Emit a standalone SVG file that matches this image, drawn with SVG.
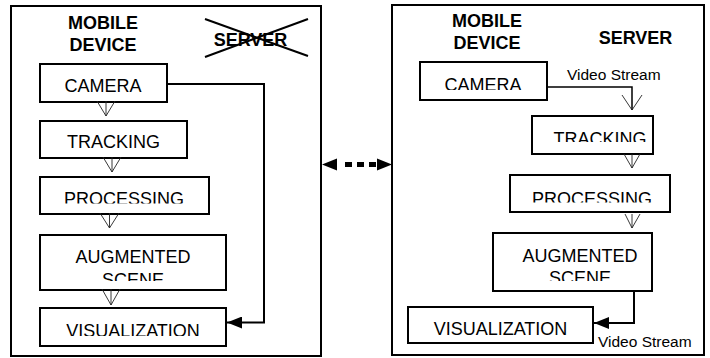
<svg xmlns="http://www.w3.org/2000/svg" width="710" height="358" viewBox="0 0 710 358">
  <style>
    .panel { fill: #fff; stroke: #000; stroke-width: 2; }
    .box { fill: #fff; stroke: #000; stroke-width: 2; }
    .title { font-family: "Liberation Sans", Arial, sans-serif; font-size: 18px; font-weight: bold; fill: #000; text-anchor: middle; }
    .label { font-family: "Liberation Sans", Arial, sans-serif; font-size: 18px; fill: #000; text-anchor: middle; }
    .note { font-family: "Liberation Sans", Arial, sans-serif; font-size: 15.5px; fill: #000; }
    .flow { fill: none; stroke: #000; stroke-width: 2; }
    .open { fill: none; stroke: #222; stroke-width: 0.9; }
    .cross { stroke: #000; stroke-width: 2; }
  </style>
  <defs>
    <marker id="solidHead" viewBox="0 0 15 12" refX="15" refY="6" markerWidth="15" markerHeight="12" markerUnits="userSpaceOnUse" orient="auto">
      <path d="M0,0 L15,6 L0,12 Z" fill="#000"/>
    </marker>
    <!-- label frames that cut off the lower part of the text -->
    <clipPath id="cpLProc"><rect x="40" y="180" width="170" height="23.5"/></clipPath>
    <clipPath id="cpLScene"><rect x="40" y="265" width="186" height="16"/></clipPath>
    <clipPath id="cpLVis"><rect x="40" y="312" width="186" height="24"/></clipPath>
    <clipPath id="cpRCam"><rect x="420" y="66" width="127" height="24"/></clipPath>
    <clipPath id="cpRTrack"><rect x="532" y="120" width="121" height="22"/></clipPath>
    <clipPath id="cpRProc"><rect x="510" y="180" width="160" height="22.5"/></clipPath>
    <clipPath id="cpRScene"><rect x="493" y="265" width="159" height="16"/></clipPath>
    <clipPath id="cpRVis"><rect x="408" y="312" width="185" height="23"/></clipPath>
  </defs>

  <!-- standalone configuration: everything on the device -->
  <g id="panel-local">
    <rect class="panel" x="11" y="6" width="310" height="350"/>
    <text class="title" x="103" y="29">MOBILE</text>
    <text class="title" x="103" y="51">DEVICE</text>
    <text class="title" x="250.5" y="45.5">SERVER</text>
    <line class="cross" x1="205" y1="19" x2="308" y2="56"/>
    <line class="cross" x1="205" y1="57" x2="308" y2="19"/>
  </g>

  <g id="l-camera">
    <rect class="box" x="40" y="64" width="127" height="38"/>
    <text class="label" x="103" y="92.3">CAMERA</text>
  </g>
  <g id="l-tracking">
    <rect class="box" x="40" y="121" width="147" height="37"/>
    <text class="label" x="113.5" y="147.5">TRACKING</text>
  </g>
  <g id="l-processing">
    <rect class="box" x="40" y="177" width="169" height="37"/>
    <text class="label" x="124" y="204.6" clip-path="url(#cpLProc)">PROCESSING</text>
  </g>
  <g id="l-augmented">
    <rect class="box" x="40" y="235" width="186" height="55"/>
    <text class="label" x="133" y="262.7">AUGMENTED</text>
    <text class="label" x="133" y="285.6" clip-path="url(#cpLScene)">SCENE</text>
  </g>
  <g id="l-visualization">
    <rect class="box" x="40" y="308" width="186" height="38"/>
    <text class="label" x="133" y="336.9" clip-path="url(#cpLVis)">VISUALIZATION</text>
  </g>

  <!-- client/server configuration -->
  <g id="panel-remote">
    <rect class="panel" x="392" y="5" width="312" height="350"/>
    <text class="title" x="487" y="27">MOBILE</text>
    <text class="title" x="487" y="49">DEVICE</text>
    <text class="title" x="635.5" y="44">SERVER</text>
  </g>

  <g id="r-camera">
    <rect class="box" x="420" y="62" width="127" height="38"/>
    <text class="label" x="483" y="91.2" clip-path="url(#cpRCam)">CAMERA</text>
  </g>
  <g id="r-tracking">
    <rect class="box" x="532" y="116" width="121" height="38"/>
    <text class="label" x="600" y="144.6" clip-path="url(#cpRTrack)">TRACKING</text>
  </g>
  <g id="r-processing">
    <rect class="box" x="510" y="175" width="160" height="37"/>
    <text class="label" x="592" y="204.6" clip-path="url(#cpRProc)">PROCESSING</text>
  </g>
  <g id="r-augmented">
    <rect class="box" x="493" y="233" width="159" height="58"/>
    <text class="label" x="580" y="262">AUGMENTED</text>
    <text class="label" x="580" y="283.5" clip-path="url(#cpRScene)">SCENE</text>
  </g>
  <g id="r-visualization">
    <rect class="box" x="408" y="307" width="185" height="36"/>
    <text class="label" x="500.5" y="334.8" clip-path="url(#cpRVis)">VISUALIZATION</text>
  </g>

  <g id="connectors">
    <!-- local pipeline -->
    <path class="open" d="M97,101 L106,116 L115,101 M106,101 L106,116"/>
    <path class="open" d="M103,157 L112,172 L121,157 M112,157 L112,172"/>
    <path class="open" d="M100,213 L109.5,228 L119,213 M109.5,213 L109.5,228"/>
    <path class="open" d="M102,289 L111,305 L120,289 M111,289 L111,305"/>
    <path class="flow" d="M167,84 L264,84 L264,322.5 L227,322.5" marker-end="url(#solidHead)"/>

    <!-- remote pipeline -->
    <path class="flow" d="M547,87 L632,87 L632,110" style="stroke-width:1.5"/>
    <path class="open" d="M622,95 L632,110 L642,95"/>
    <path class="open" d="M624,154 L632,168 L640,154 M632,154 L632,168"/>
    <path class="open" d="M625,214 L632,228 L640,214 M632,214 L632,228"/>
    <path class="flow" d="M634,291 L634,323 L594,323" marker-end="url(#solidHead)"/>
    <text class="note" x="567" y="80">Video Stream</text>
    <text class="note" x="598" y="347">Video Stream</text>

    <!-- link between the two configurations -->
    <path d="M322,164.5 L337,158.5 L337,170.5 Z" fill="#000"/>
    <path d="M392,164.5 L377,158.5 L377,170.5 Z" fill="#000"/>
    <line x1="345" y1="164.5" x2="376" y2="164.5" stroke="#000" stroke-width="5" stroke-dasharray="7 5"/>
  </g>
</svg>
